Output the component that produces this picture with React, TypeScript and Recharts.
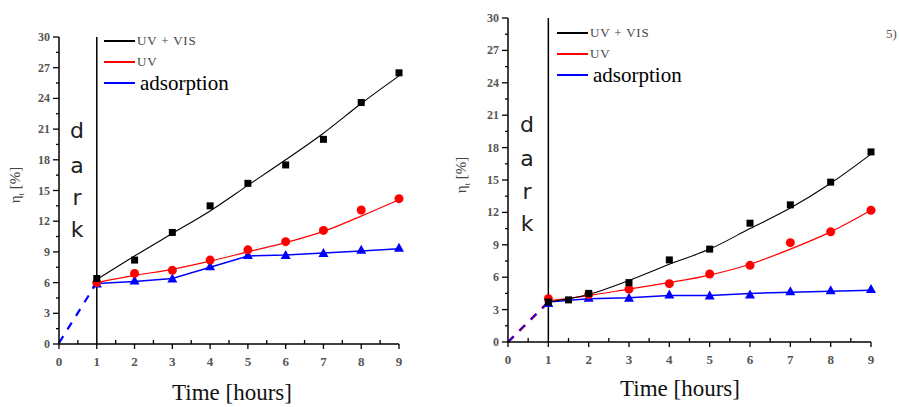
import React from "react";
import { LineChart, Line, XAxis, YAxis, ReferenceLine } from "recharts";

// ---------- data ----------
const HOURS = [1, 2, 3, 4, 5, 6, 7, 8, 9];
const DARK_X = [0, 1];
const X_TICKS = [0, 0.5, 1, 1.5, 2, 2.5, 3, 3.5, 4, 4.5, 5, 5.5, 6, 6.5, 7, 7.5, 8, 8.5, 9];
const Y_TICKS = [0, 1.5, 3, 4.5, 6, 7.5, 9, 10.5, 12, 13.5, 15, 16.5, 18, 19.5, 21, 22.5, 24, 25.5, 27, 28.5, 30];
const LEGEND_LABELS = ["UV + VIS", "UV", "adsorption"];
const DARK_LETTERS = ["d", "a", "r", "k"];

// left panel
const A_UVVIS = [6.4, 8.2, 10.9, 13.5, 15.7, 17.5, 20.0, 23.6, 26.5];
const A_UVVIS_FIT = [6.3, 8.6, 10.8, 13.0, 15.5, 18.0, 20.6, 23.5, 26.2];
const A_UV = [6.0, 6.9, 7.2, 8.2, 9.2, 10.0, 11.1, 13.1, 14.2];
const A_UV_FIT = [6.0, 6.7, 7.3, 8.1, 9.0, 9.9, 11.0, 12.5, 14.1];
const A_ADS = [5.9, 6.2, 6.4, 7.6, 8.7, 8.7, 8.9, 9.2, 9.4];
const A_ADS_FIT = [5.9, 6.1, 6.4, 7.5, 8.6, 8.7, 8.9, 9.1, 9.3];
const A_DARK = [0.1, 6.0];

// right panel
const B_UVVIS_X = [1, 1.5, 2, 3, 4, 5, 6, 7, 8, 9];
const B_UVVIS = [3.7, 3.9, 4.5, 5.5, 7.6, 8.6, 11.0, 12.7, 14.8, 17.6];
const B_UVVIS_FIT = [3.7, 4.4, 5.7, 7.2, 8.6, 10.5, 12.4, 14.7, 17.4];
const B_UV = [4.0, 4.4, 4.9, 5.4, 6.3, 7.1, 9.2, 10.2, 12.2];
const B_UV_FIT = [3.8, 4.3, 4.9, 5.5, 6.2, 7.2, 8.6, 10.2, 12.2];
const B_ADS = [3.6, 4.1, 4.1, 4.4, 4.3, 4.4, 4.7, 4.8, 4.9];
const B_ADS_FIT = [3.7, 4.0, 4.1, 4.3, 4.3, 4.5, 4.6, 4.7, 4.8];
const B_DARK = [0.0, 3.7];

const SERIES_COLORS = ["#000000", "#ff0000", "#0000ff"];

const pts = (xs: number[], ys: number[]) => xs.map((x, i) => ({ x, y: ys[i] }));

const SERIF = "'Liberation Serif', 'DejaVu Serif', serif";
const SANS = "'DejaVu Sans', 'Liberation Sans', sans-serif";

const XTick = (props: any) => {
  const { x, y, payload } = props;
  const v = payload.value;
  const major = Math.abs(v - Math.round(v)) < 1e-6;
  return (
    <g>
      {major ? (
        <line x1={x} x2={x} y1={y} y2={y + 5} stroke="#000" strokeWidth={1.3} />
      ) : (
        <line x1={x} x2={x} y1={y} y2={y - 4} stroke="#000" strokeWidth={1.3} />
      )}
      {major && (
        <text x={x} y={y + 22} textAnchor="middle" fontFamily={SERIF} fontWeight="bold" fontSize={13} fill="#555">
          {v}
        </text>
      )}
    </g>
  );
};

const YTick = (props: any) => {
  const { x, y, payload } = props;
  const v = payload.value;
  const major = Math.abs(v / 3 - Math.round(v / 3)) < 1e-6;
  return (
    <g>
      <line x1={x} x2={x - (major ? 6 : 3)} y1={y} y2={y} stroke="#000" strokeWidth={1.3} />
      {major && (
        <text x={x - 9} y={y + 4} textAnchor="end" fontFamily={SERIF} fontWeight="bold" fontSize={12} fill="#555">
          {v}
        </text>
      )}
    </g>
  );
};

const Square = (p: any) =>
  p.cx == null ? <g key={p.index} /> : <rect key={p.index} x={p.cx - 3.5} y={p.cy - 3.5} width={7} height={7} fill="#000" />;
const Circle = (p: any) =>
  p.cx == null ? <g key={p.index} /> : <circle key={p.index} cx={p.cx} cy={p.cy} r={4.5} fill="#ff0000" />;
const Tri = (p: any) =>
  p.cx == null ? (
    <g key={p.index} />
  ) : (
    <polygon key={p.index} points={`${p.cx},${p.cy - 5} ${p.cx - 5},${p.cy + 4} ${p.cx + 5},${p.cy + 4}`} fill="#0000ff" />
  );

const LegendBox = ({ left, top }: { left: number; top: number }) => (
  <div style={{ position: "absolute", left, top, width: 200, height: 70 }}>
    {LEGEND_LABELS.map((lab, i) => {
      const t = [0, 21, 42][i];
      const color = SERIES_COLORS[i];
      const isAds = i === 2;
      return (
        <div key={lab} style={{ position: "absolute", left: 0, top: t, height: 20, display: "flex", alignItems: "center" }}>
          <div style={{ width: 31, height: 2, background: color }} />
          <span
            style={{
              marginLeft: isAds ? 5 : 2,
              fontFamily: SERIF,
              fontSize: isAds ? 21 : 13,
              color: isAds ? "#000" : "#444",
              letterSpacing: isAds ? 0 : 0.8,
              whiteSpace: "nowrap",
            }}
          >
            {lab}
          </span>
        </div>
      );
    })}
  </div>
);

type PanelProps = {
  left: number;
  width: number;
  margin: { top: number; right: number; bottom: number; left: number };
  uvvisX: number[];
  uvvis: number[];
  uvvisFit: number[];
  uv: number[];
  uvFit: number[];
  ads: number[];
  adsFit: number[];
  dark: number[];
  darkRed: boolean;
};

const Panel = (p: PanelProps) => (
  <div style={{ position: "absolute", left: p.left, top: 0 }}>
    <LineChart width={p.width} height={407} margin={p.margin}>
      <XAxis
        dataKey="x"
        type="number"
        domain={[0, 9]}
        ticks={X_TICKS}
        interval={0}
        tick={<XTick />}
        tickLine={false}
        tickSize={0}
        tickMargin={0}
        height={30}
        axisLine={{ stroke: "#000", strokeWidth: 1.5 }}
        allowDecimals
      />
      <YAxis
        type="number"
        domain={[0, 30]}
        ticks={Y_TICKS}
        interval={0}
        tick={<YTick />}
        tickLine={false}
        tickSize={0}
        tickMargin={0}
        width={40}
        axisLine={{ stroke: "#000", strokeWidth: 1.5 }}
      />
      <ReferenceLine x={1} stroke="#000" strokeWidth={1.5} />
      {p.darkRed && (
        <Line
          data={pts(DARK_X, p.dark)}
          dataKey="y"
          stroke="#ff0000"
          strokeWidth={2.6}
          strokeDasharray="8 8"
          dot={false}
          isAnimationActive={false}
        />
      )}
      <Line
        data={pts(DARK_X, p.dark)}
        dataKey="y"
        stroke="#0000ff"
        strokeWidth={p.darkRed ? 1.6 : 2.2}
        strokeDasharray="8 8"
        dot={false}
        isAnimationActive={false}
      />
      <Line data={pts(HOURS, p.adsFit)} dataKey="y" type="linear" stroke="#0000ff" strokeWidth={1.5} dot={false} isAnimationActive={false} />
      <Line data={pts(HOURS, p.uvFit)} dataKey="y" type="monotone" stroke="#ff0000" strokeWidth={1.2} dot={false} isAnimationActive={false} />
      <Line data={pts(HOURS, p.uvvisFit)} dataKey="y" type="monotone" stroke="#000" strokeWidth={1.1} dot={false} isAnimationActive={false} />
      <Line data={pts(HOURS, p.ads)} dataKey="y" stroke="none" dot={Tri} activeDot={false} isAnimationActive={false} />
      <Line data={pts(HOURS, p.uv)} dataKey="y" stroke="none" dot={Circle} activeDot={false} isAnimationActive={false} />
      <Line data={pts(p.uvvisX, p.uvvis)} dataKey="y" stroke="none" dot={Square} activeDot={false} isAnimationActive={false} />
    </LineChart>
  </div>
);

const DarkText = ({ left, tops }: { left: number; tops: number[] }) => (
  <>
    {DARK_LETTERS.map((ch, i) => (
      <div
        key={ch}
        style={{
          position: "absolute",
          left,
          top: tops[i],
          width: 20,
          textAlign: "center",
          fontFamily: SANS,
          fontSize: 22,
          lineHeight: "22px",
          color: "#222",
        }}
      >
        {ch}
      </div>
    ))}
  </>
);

const YLabel = ({ left, top }: { left: number; top: number }) => (
  <div
    style={{
      position: "absolute",
      left,
      top,
      width: 60,
      height: 18,
      transform: "rotate(-90deg)",
      transformOrigin: "center center",
      fontFamily: SERIF,
      fontSize: 15,
      lineHeight: "18px",
      color: "#444",
      textAlign: "center",
      whiteSpace: "nowrap",
    }}
  >
    η<sub style={{ fontSize: 8 }}>t</sub> [%]
  </div>
);

const XTitle = ({ left, top }: { left: number; top: number }) => (
  <div
    style={{
      position: "absolute",
      left,
      top,
      width: 200,
      textAlign: "center",
      fontFamily: SERIF,
      fontSize: 23,
      lineHeight: "26px",
      color: "#111",
      whiteSpace: "nowrap",
    }}
  >
    Time [hours]
  </div>
);

export default function App() {
  return (
    <div style={{ position: "absolute", left: 0, top: 0, width: 899, height: 407, background: "#fff", overflow: "hidden" }}>
      <Panel
        left={0}
        width={450}
        margin={{ top: 37, right: 51, bottom: 33, left: 19 }}
        uvvisX={HOURS}
        uvvis={A_UVVIS}
        uvvisFit={A_UVVIS_FIT}
        uv={A_UV}
        uvFit={A_UV_FIT}
        ads={A_ADS}
        adsFit={A_ADS_FIT}
        dark={A_DARK}
        darkRed={false}
      />
      <Panel
        left={450}
        width={449}
        margin={{ top: 18, right: 28, bottom: 35, left: 18 }}
        uvvisX={B_UVVIS_X}
        uvvis={B_UVVIS}
        uvvisFit={B_UVVIS_FIT}
        uv={B_UV}
        uvFit={B_UV_FIT}
        ads={B_ADS}
        adsFit={B_ADS_FIT}
        dark={B_DARK}
        darkRed={true}
      />
      <LegendBox left={104} top={31} />
      <LegendBox left={557} top={23} />
      <DarkText left={67} tops={[120, 155, 187, 219]} />
      <DarkText left={517} tops={[114, 148, 181, 213]} />
      <YLabel left={-15} top={176} />
      <YLabel left={431} top={166} />
      <XTitle left={132} top={380} />
      <XTitle left={580} top={376} />
      <div style={{ position: "absolute", left: 886, top: 26, fontFamily: SERIF, fontSize: 13, color: "#555" }}>5)</div>
    </div>
  );
}
